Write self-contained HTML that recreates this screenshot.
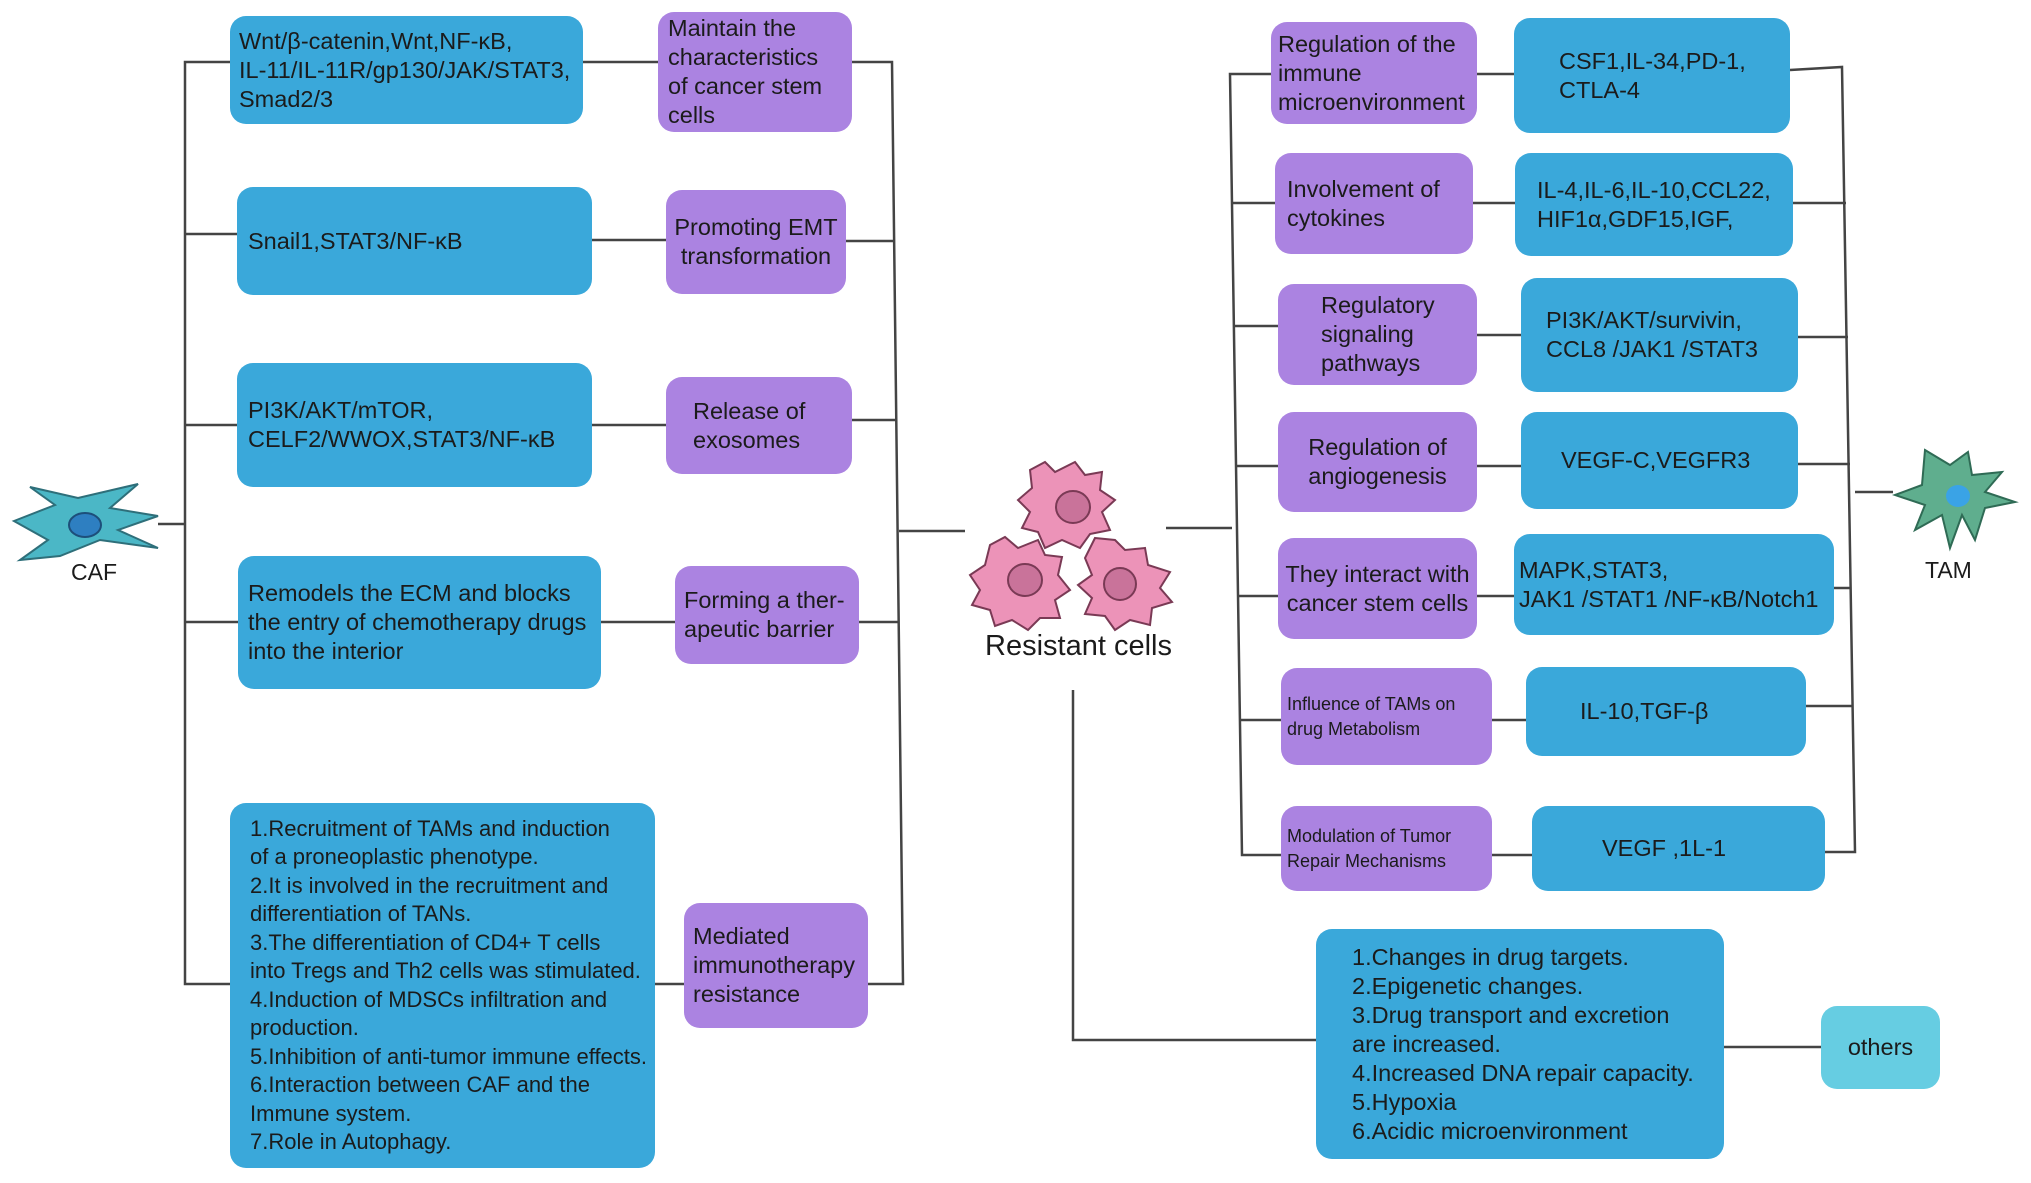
<!DOCTYPE html>
<html><head><meta charset="utf-8"><style>
html,body{margin:0;padding:0;background:#fff;}
#c{position:relative;width:2031px;height:1183px;overflow:hidden;font-family:"Liberation Sans",sans-serif;color:#1b1b1b;}
.b{position:absolute;box-sizing:border-box;border-radius:16px;font-size:23.5px;line-height:29px;display:flex;align-items:center;white-space:nowrap;}
.bl{background:#3aa8da;}
.pu{background:#ab83e1;}
.t{position:absolute;font-size:23px;}
svg{position:absolute;left:0;top:0;}
</style></head><body><div id="c">
<svg width="2031" height="1183">
<g stroke="#444" stroke-width="2.5" fill="none">
<polyline points="230,62 185,62 185,984 230,984"/>
<line x1="185" y1="234" x2="237" y2="234"/>
<line x1="185" y1="425" x2="237" y2="425"/>
<line x1="185" y1="622" x2="238" y2="622"/>
<line x1="158" y1="524" x2="185" y2="524"/>
<line x1="583" y1="62" x2="658" y2="62"/>
<line x1="592" y1="240" x2="666" y2="240"/>
<line x1="592" y1="425" x2="666" y2="425"/>
<line x1="601" y1="622" x2="675" y2="622"/>
<line x1="655" y1="984" x2="684" y2="984"/>
<polyline points="852,62 892,62 903,984 868,984"/>
<line x1="846" y1="241" x2="895" y2="241"/>
<line x1="852" y1="420" x2="897" y2="420"/>
<line x1="859" y1="622" x2="899" y2="622"/>
<line x1="899" y1="531" x2="965" y2="531"/>
<line x1="1166" y1="528" x2="1232" y2="528"/>
<polyline points="1271,74 1230,74 1242,855 1281,855"/>
<line x1="1232" y1="203" x2="1275" y2="203"/>
<line x1="1234" y1="326" x2="1278" y2="326"/>
<line x1="1236" y1="466" x2="1278" y2="466"/>
<line x1="1238" y1="596" x2="1278" y2="596"/>
<line x1="1240" y1="720" x2="1281" y2="720"/>
<line x1="1477" y1="74" x2="1514" y2="74"/>
<line x1="1473" y1="203" x2="1515" y2="203"/>
<line x1="1477" y1="335" x2="1521" y2="335"/>
<line x1="1477" y1="466" x2="1521" y2="466"/>
<line x1="1477" y1="596" x2="1514" y2="596"/>
<line x1="1492" y1="720" x2="1526" y2="720"/>
<line x1="1492" y1="855" x2="1532" y2="855"/>
<polyline points="1790,70 1842,67 1855,852 1825,852"/>
<line x1="1793" y1="203" x2="1846" y2="203"/>
<line x1="1798" y1="337" x2="1848" y2="337"/>
<line x1="1798" y1="464" x2="1850" y2="464"/>
<line x1="1834" y1="588" x2="1851" y2="588"/>
<line x1="1806" y1="706" x2="1853" y2="706"/>
<line x1="1855" y1="492" x2="1893" y2="492"/>
<polyline points="1073,690 1073,1040 1316,1040"/>
<line x1="1724" y1="1047" x2="1821" y2="1047"/>
</g>
<g>
<path d="M14,521 L55,505 L30,487 L78,498 L138,484 L110,508 L158,516 L118,530 L158,548 L100,540 L60,556 L20,560 L48,540 Z" fill="#4bb7c6" stroke="#2e6f7a" stroke-width="2"/>
<ellipse cx="85" cy="525" rx="16" ry="12" fill="#2e7fc1" stroke="#1d4f7a" stroke-width="2"/>
</g>
<g fill="#ec93b8" stroke="#7a3a55" stroke-width="2">
<path d="M1030,470 L1045,462 L1055,472 L1075,462 L1085,475 L1102,472 L1100,490 L1115,500 L1102,512 L1110,530 L1090,534 L1080,548 L1062,540 L1045,548 L1038,532 L1022,528 L1030,512 L1018,500 L1032,488 Z"/>
<path d="M990,545 L1005,537 L1018,548 L1038,540 L1045,555 L1062,557 L1058,575 L1070,590 L1055,600 L1060,618 L1040,618 L1028,630 L1012,620 L995,626 L990,610 L972,605 L980,590 L970,575 L985,565 Z"/>
<path d="M1095,538 L1115,540 L1125,550 L1145,548 L1148,565 L1170,572 L1160,588 L1172,602 L1152,608 L1150,625 L1130,620 L1115,630 L1105,616 L1085,614 L1092,598 L1078,585 L1092,575 L1085,558 Z"/>
</g>
<g fill="#c9739a" stroke="#7a3a55" stroke-width="2">
<ellipse cx="1073" cy="507" rx="17" ry="16"/>
<ellipse cx="1025" cy="580" rx="17" ry="16"/>
<ellipse cx="1120" cy="584" rx="16" ry="16"/>
</g>
<path d="M1925,450 L1950,465 L1968,452 L1972,475 L2002,472 L1985,492 L2015,502 L1985,508 L1975,540 L1962,515 L1950,548 L1942,515 L1915,530 L1925,505 L1895,495 L1922,485 Z" fill="#5fae8e" stroke="#2f6b55" stroke-width="2"/>
<ellipse cx="1958" cy="496" rx="12" ry="11" fill="#3aa3e6"/>
</svg>

<div class="t" style="left:71px;top:559px;">CAF</div>
<div class="t" style="left:985px;top:630px;font-size:29px;">Resistant cells</div>
<div class="t" style="left:1925px;top:557px;">TAM</div>

<div class="b bl" style="left:230px;top:16px;width:353px;height:108px;padding-left:9px;">Wnt/β-catenin,Wnt,NF-κB,<br>IL-11/IL-11R/gp130/JAK/STAT3,<br>Smad2/3</div>
<div class="b bl" style="left:237px;top:187px;width:355px;height:108px;padding-left:11px;">Snail1,STAT3/NF-κB</div>
<div class="b bl" style="left:237px;top:363px;width:355px;height:124px;padding-left:11px;">PI3K/AKT/mTOR,<br>CELF2/WWOX,STAT3/NF-κB</div>
<div class="b bl" style="left:238px;top:556px;width:363px;height:133px;padding-left:10px;">Remodels the ECM and blocks<br>the entry of chemotherapy drugs<br>into the interior</div>
<div class="b bl" style="left:230px;top:803px;width:425px;height:365px;padding-left:20px;font-size:22px;line-height:28.5px;">1.Recruitment of TAMs and induction<br>of a proneoplastic phenotype.<br>2.It is involved in the recruitment and<br>differentiation of TANs.<br>3.The differentiation of CD4+ T cells<br>into Tregs and Th2 cells was stimulated.<br>4.Induction of MDSCs infiltration and<br>production.<br>5.Inhibition of anti-tumor immune effects.<br>6.Interaction between CAF and the<br>Immune system.<br>7.Role in Autophagy.</div>
<div class="b pu" style="left:658px;top:12px;width:194px;height:120px;padding-left:10px;">Maintain the<br>characteristics<br>of cancer stem<br>cells</div>
<div class="b pu" style="left:666px;top:190px;width:180px;height:104px;justify-content:center;text-align:center;">Promoting EMT<br>transformation</div>
<div class="b pu" style="left:666px;top:377px;width:186px;height:97px;padding-left:27px;">Release of<br>exosomes</div>
<div class="b pu" style="left:675px;top:566px;width:184px;height:98px;padding-left:9px;">Forming a ther-<br>apeutic barrier</div>
<div class="b pu" style="left:684px;top:903px;width:184px;height:125px;padding-left:9px;">Mediated<br>immunotherapy<br>resistance</div>
<div class="b pu" style="left:1271px;top:22px;width:206px;height:102px;padding-left:7px;">Regulation of the<br>immune<br>microenvironment</div>
<div class="b pu" style="left:1275px;top:153px;width:198px;height:101px;padding-left:12px;">Involvement of<br>cytokines</div>
<div class="b pu" style="left:1278px;top:284px;width:199px;height:101px;padding-left:43px;">Regulatory<br>signaling<br>pathways</div>
<div class="b pu" style="left:1278px;top:412px;width:199px;height:100px;justify-content:center;text-align:center;">Regulation of<br>angiogenesis</div>
<div class="b pu" style="left:1278px;top:538px;width:199px;height:101px;justify-content:center;text-align:center;">They interact with<br>cancer stem cells</div>
<div class="b pu" style="left:1281px;top:668px;width:211px;height:97px;padding-left:6px;font-size:18px;line-height:25px;">Influence of TAMs on<br>drug Metabolism</div>
<div class="b pu" style="left:1281px;top:806px;width:211px;height:85px;padding-left:6px;font-size:18px;line-height:25px;">Modulation of Tumor<br>Repair Mechanisms</div>
<div class="b bl" style="left:1514px;top:18px;width:276px;height:115px;padding-left:45px;">CSF1,IL-34,PD-1,<br>CTLA-4</div>
<div class="b bl" style="left:1515px;top:153px;width:278px;height:103px;padding-left:22px;">IL-4,IL-6,IL-10,CCL22,<br>HIF1α,GDF15,IGF,</div>
<div class="b bl" style="left:1521px;top:278px;width:277px;height:114px;padding-left:25px;">PI3K/AKT/survivin,<br>CCL8 /JAK1 /STAT3</div>
<div class="b bl" style="left:1521px;top:412px;width:277px;height:97px;padding-left:40px;">VEGF-C,VEGFR3</div>
<div class="b bl" style="left:1514px;top:534px;width:320px;height:101px;padding-left:5px;">MAPK,STAT3,<br>JAK1 /STAT1 /NF-κB/Notch1</div>
<div class="b bl" style="left:1526px;top:667px;width:280px;height:89px;padding-left:54px;">IL-10,TGF-β</div>
<div class="b bl" style="left:1532px;top:806px;width:293px;height:85px;padding-left:70px;">VEGF ,1L-1</div>
<div class="b bl" style="left:1316px;top:929px;width:408px;height:230px;padding-left:36px;">1.Changes in drug targets.<br>2.Epigenetic changes.<br>3.Drug transport and excretion<br>are increased.<br>4.Increased DNA repair capacity.<br>5.Hypoxia<br>6.Acidic microenvironment</div>
<div class="b" style="left:1821px;top:1006px;width:119px;height:83px;background:#66cde2;justify-content:center;">others</div>
</div></body></html>
